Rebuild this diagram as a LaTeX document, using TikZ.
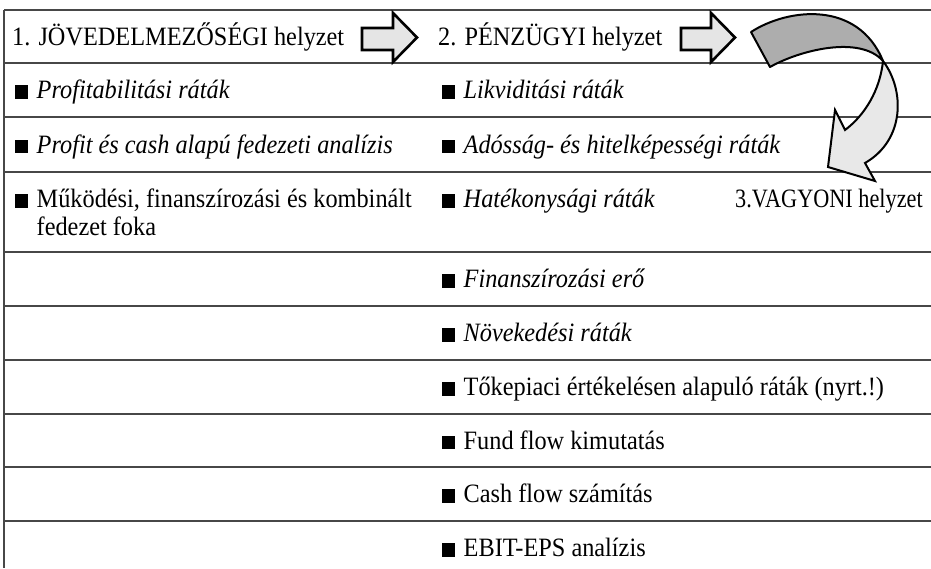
\documentclass[tikz,border=0pt]{standalone}
\usepackage{fontspec}
\setmainfont{Liberation Serif}[FakeStretch=0.917]
\newfontfamily\narrowfont{Liberation Serif}[FakeStretch=0.84]
\newcommand{\bsq}{\rule{13pt}{13.5pt}\hspace{8.5pt}}
\tikzset{
  rowline/.style={line width=1.6pt, draw=black!72},
  txt/.style={anchor=base west, inner sep=0pt, font=\fontsize{26.5}{27}\selectfont},
  narrowtxt/.style={anchor=base west, inner sep=0pt, font=\narrowfont\fontsize{26.5}{27}\selectfont},
  straightarrow/.style={draw=black, line width=2.6pt, fill=black!10, line join=miter},
  twistback/.style={draw=black, line width=2pt, fill=black!32, line join=round},
  twistfront/.style={draw=black, line width=2pt, fill=black!9, line join=miter},
}
\begin{document}
\begin{tikzpicture}[x=1pt,y=-1pt]
\useasboundingbox (0,0) rectangle (931,568);
% table lines
\foreach \yy in {10,63,117,172,252,306,360,414,467,521}{
  \draw[rowline] (4,\yy) -- (931,\yy);
}
\draw[rowline] (4,10) -- (4,568);

% row 1
\node[txt] (h1) at (12,45) {1. JÖVEDELMEZŐSÉGI helyzet};
\node[txt] (h2) at (438,45) {2. PÉNZÜGYI helyzet};
% column 1
\node[txt] (a1) at (15,98.5) {\bsq\textit{Profitabilitási ráták}};
\node[txt] (a2) at (15,153) {\bsq\textit{Profit és cash alapú fedezeti analízis}};
\node[txt] (a3) at (15,207.5) {\bsq Működési, finanszírozási és kombinált};
\node[txt] (a3b) at (36.5,235) {fedezet foka};
% column 2
\node[txt] (b1) at (442,98.5) {\bsq\textit{Likviditási ráták}};
\node[txt] (b2) at (442,153) {\bsq\textit{Adósság- és hitelképességi ráták}};
\node[txt] (b3) at (442,207.5) {\bsq\textit{Hatékonysági ráták}};
\node[narrowtxt] (h3) at (735,207.5) {3.VAGYONI helyzet};
\node[txt] (b4) at (442,287.5) {\bsq\textit{Finanszírozási erő}};
\node[txt] (b5) at (442,341.5) {\bsq\textit{Növekedési ráták}};
\node[txt] (b6) at (442,395.5) {\bsq Tőkepiaci értékelésen alapuló ráták (nyrt.!)};
\node[txt] (b7) at (442,449) {\bsq Fund flow kimutatás};
\node[txt] (b8) at (442,502.5) {\bsq Cash flow számítás};
\node[txt] (b9) at (442,556.5) {\bsq EBIT-EPS analízis};

% straight block arrows
\draw[straightarrow] (362,28) -- (393,28) -- (393,13) -- (417,37.5) -- (393,62) -- (393,50) -- (362,50) -- cycle;
\draw[straightarrow] (681,28) -- (711,28) -- (711,13) -- (735,37.5) -- (711,62) -- (711,50) -- (681,50) -- cycle;

% curved twisted arrow
\coordinate (X) at (883,61);
\draw[twistback] (751,32) .. controls (788,8) and (858,0) .. (X)
   .. controls (860,35) and (800,50) .. (770,67) -- cycle;
\draw[twistfront] (X) .. controls (905,90) and (905,140) .. (865,163)
   -- (875,181) -- (828,167) -- (835,110) -- (845,130)
   .. controls (865,115) and (880,90) .. (X) -- cycle;
\end{tikzpicture}
\end{document}
